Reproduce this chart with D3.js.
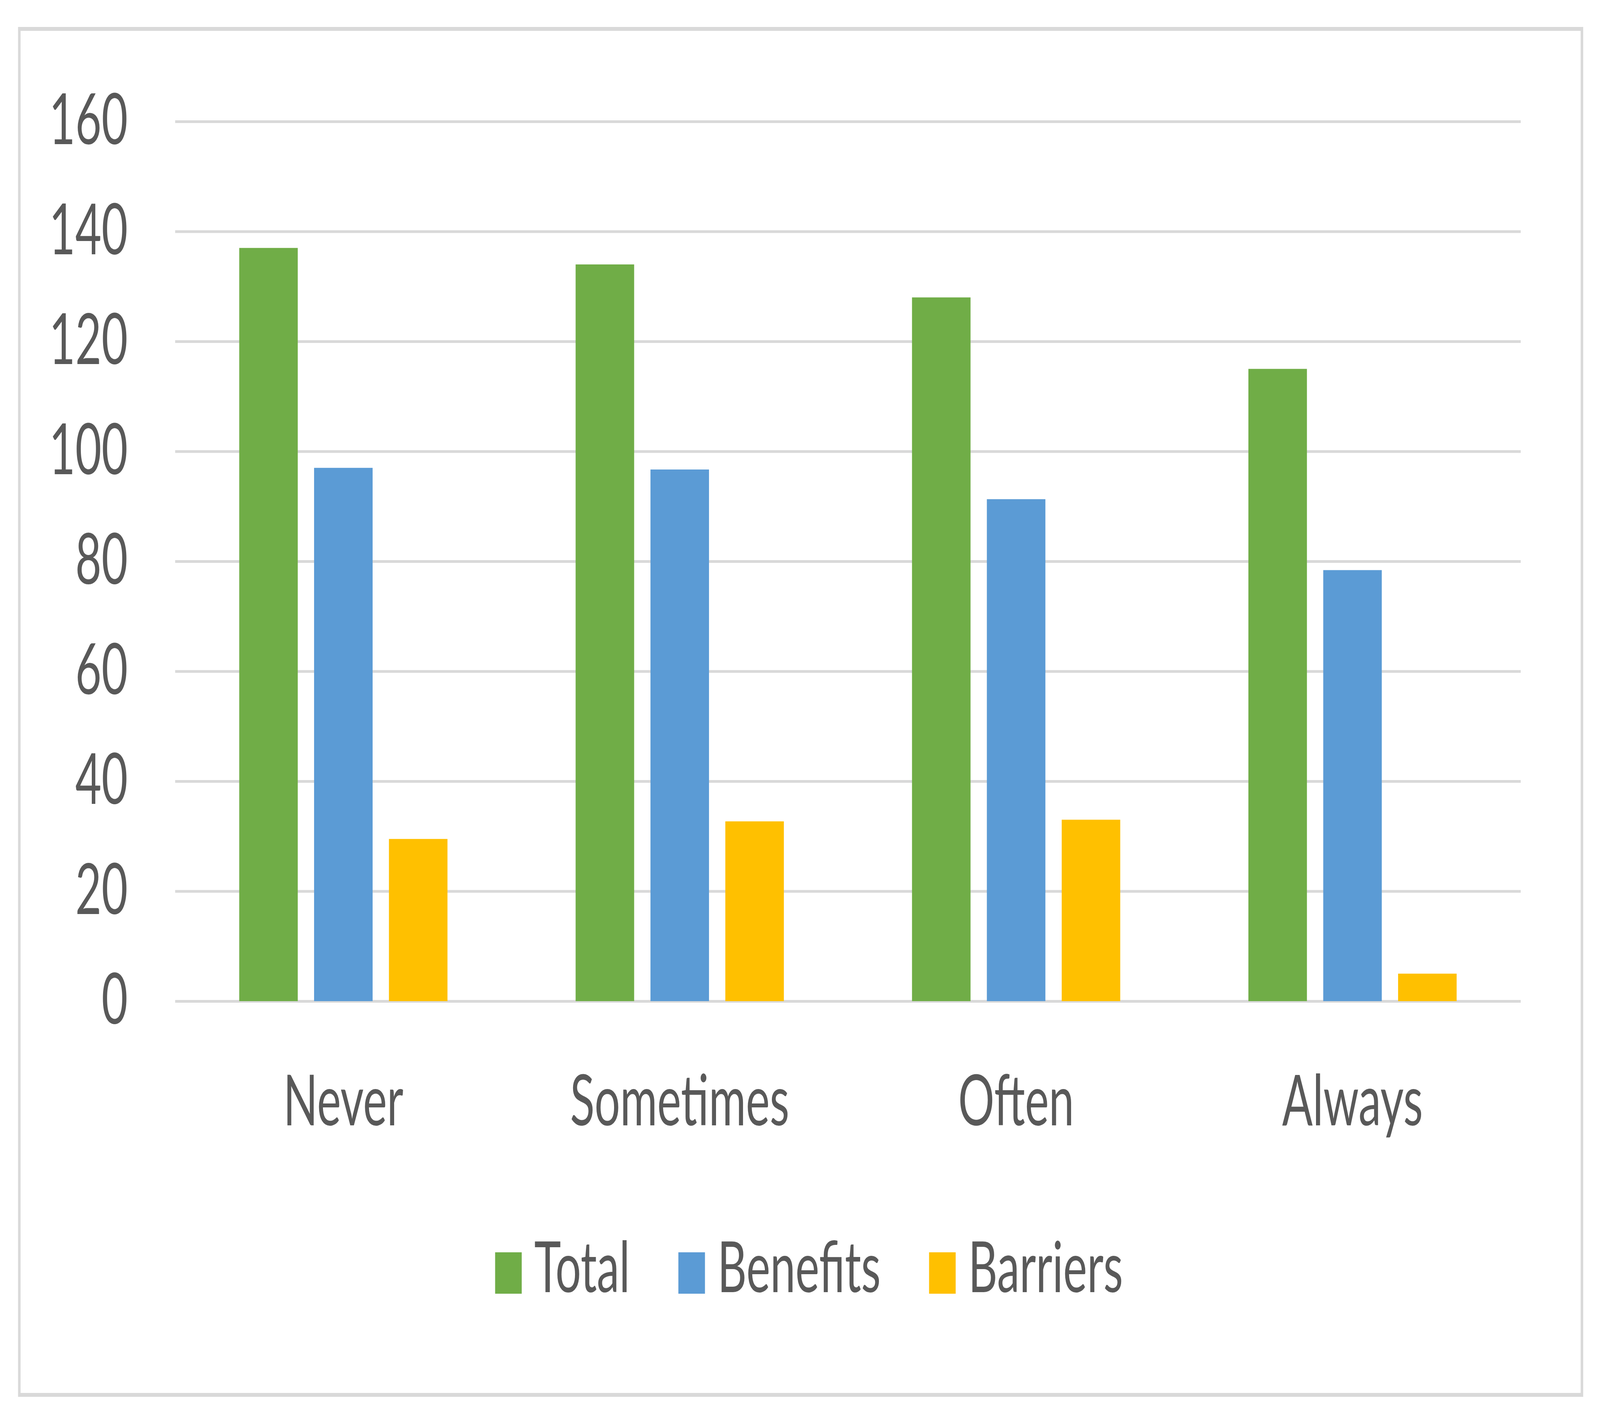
<!DOCTYPE html>
<html>
<head>
<meta charset="utf-8">
<script src="https://cdn.jsdelivr.net/npm/d3@7"></script>
<style>
  html, body { margin: 0; padding: 0; background: #fff; overflow: hidden; }
  svg { display: block; }
  text { font-family: Lato, "Open Sans", sans-serif; fill: #595959; }
</style>
</head>
<body>
<div id="chart"></div>
<script>
var categories = ["Never", "Sometimes", "Often", "Always"];
var seriesNames = ["Total", "Benefits", "Barriers"];
var totalValues = [137, 134, 128, 115];
var benefitsValues = [97, 96.7, 91.3, 78.4];
var barriersValues = [29.5, 32.7, 33, 5];
var yTicks = [0, 20, 40, 60, 80, 100, 120, 140, 160];
var seriesColors = ["#70AD47", "#5B9BD5", "#FFC000"];

// drawn in the reference's 6376x3643 frame, stretched to whatever window we get
var w = 6376, h = 3643;
var plotLeft = 698, plotRight = 6060, plotTop = 311, plotBottom = 2563;
var fontSize = 180;

var svg = d3.select("#chart")
    .append("svg")
    .attr("viewBox", "0 0 " + w + " " + h)
    .attr("preserveAspectRatio", "none")
    .attr("width", window.innerWidth)
    .attr("height", window.innerHeight);

// outer chart border
svg.append("rect")
    .attr("x", 77).attr("y", 74)
    .attr("width", 6227).attr("height", 3497)
    .attr("fill", "#fff")
    .attr("stroke", "#d9d9d9")
    .attr("stroke-width", 10);

var x = d3.scaleBand()
    .domain(categories)
    .range([plotLeft, plotRight])
    .padding(0);

var xInner = d3.scaleBand()
    .domain(seriesNames)
    .range([0, x.bandwidth()])
    .paddingInner(0.218)
    .paddingOuter(0.856);

var y = d3.scaleLinear()
    .domain([0, 160])
    .range([plotBottom, plotTop]);

var yAxis = svg.append("g")
    .attr("transform", "translate(" + plotLeft + ",0)")
    .call(d3.axisLeft(y)
        .tickValues(yTicks)
        .tickSize(-(plotRight - plotLeft))
        .tickPadding(189));

yAxis.select(".domain").remove();
yAxis.selectAll(".tick line")
    .attr("stroke", "#d9d9d9")
    .attr("stroke-width", 7);
yAxis.selectAll(".tick text")
    .style("font-family", "Lato, 'Open Sans', sans-serif")
    .style("font-size", fontSize + "px")
    .attr("fill", "#595959");

var rows = categories.map(function(c, i) {
    return [
        { cat: c, key: "Total", value: totalValues[i] },
        { cat: c, key: "Benefits", value: benefitsValues[i] },
        { cat: c, key: "Barriers", value: barriersValues[i] }
    ];
});

var color = d3.scaleOrdinal().domain(seriesNames).range(seriesColors);

svg.append("g").selectAll("g")
    .data(rows)
    .enter()
    .append("g")
    .attr("transform", function(d) { return "translate(" + x(d[0].cat) + ",0)"; })
    .selectAll("rect")
    .data(function(d) { return d; })
    .enter()
    .append("rect")
    .attr("x", function(d) { return xInner(d.key); })
    .attr("width", xInner.bandwidth())
    .attr("y", function(d) { return y(d.value); })
    .attr("height", function(d) { return y(0) - y(d.value); })
    .attr("fill", function(d) { return color(d.key); });

// category labels
svg.append("g").selectAll("text")
    .data(categories)
    .enter()
    .append("text")
    .attr("x", function(d) { return x(d) + x.bandwidth() / 2; })
    .attr("y", 2881)
    .attr("text-anchor", "middle")
    .style("font-size", fontSize + "px")
    .text(function(d) { return d; });

// legend
var sq = 106, textGap = 50, itemGap = 193, legendBase = 3308, legendCenter = 3224;
var legend = svg.append("g");
var items = legend.selectAll("g")
    .data(seriesNames)
    .enter()
    .append("g");

items.append("rect")
    .attr("width", sq)
    .attr("height", sq)
    .attr("y", legendBase - sq + 4)
    .attr("fill", function(d) { return color(d); });

items.append("text")
    .attr("x", sq + textGap)
    .attr("y", legendBase)
    .style("font-size", fontSize + "px")
    .text(function(d) { return d; });

var offset = 0;
items.each(function() {
    var g = d3.select(this);
    g.attr("transform", "translate(" + offset + ",0)");
    offset += sq + textGap + g.select("text").node().getComputedTextLength() + itemGap;
});
offset -= itemGap;
legend.attr("transform", "translate(" + (legendCenter - offset / 2) + ",0)");
</script>
</body>
</html>
